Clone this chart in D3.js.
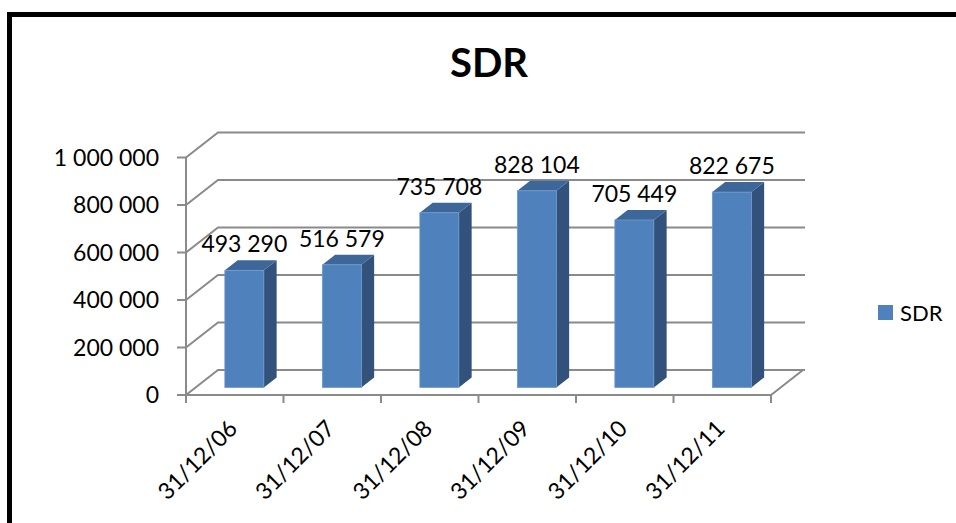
<!DOCTYPE html>
<html>
<head>
<meta charset="utf-8">
<script src="https://cdn.jsdelivr.net/npm/d3@7"></script>
<style>
  html, body { margin: 0; padding: 0; background: #fff; }
  svg { display: block; }
</style>
</head>
<body>
<svg id="chart" width="956" height="523"></svg>
<script>
// data
var categories = ['31/12/06', '31/12/07', '31/12/08', '31/12/09', '31/12/10', '31/12/11'];
var values = [493290, 516579, 735708, 828104, 705449, 822675];
var yTicks = [0, 200000, 400000, 600000, 800000, 1000000];
var seriesName = 'SDR';

var svg = d3.select('#chart');
var font = 'Lato, "Open Sans", sans-serif';
var gridColor = '#8a8a8a';

// depth of the 3d box (back wall offset)
var depthX = 32, depthY = -25;
var barFront = 0.3, barBack = 0.7;

var x = d3.scaleBand().domain(categories).range([186, 771]);
var y = d3.scaleLinear().domain([0, 1000000]).range([395, 157.5]);

var fmt = d3.formatLocale({ decimal: ',', thousands: ' ', grouping: [3], currency: ['', ''] }).format(',d');

// outer frame
svg.append('rect')
    .attr('x', 9.5)
    .attr('y', 14.5)
    .attr('width', 1000)
    .attr('height', 1000)
    .attr('fill', 'none')
    .attr('stroke', '#000')
    .attr('stroke-width', 5);

// title
svg.append('text')
    .text(seriesName)
    .attr('x', 489)
    .attr('y', 77)
    .attr('text-anchor', 'middle')
    .attr('font-family', font)
    .attr('font-weight', 'bold')
    .attr('font-size', 40)
    .attr('fill', '#000');

var grid = svg.append('g')
    .attr('stroke', gridColor)
    .attr('stroke-width', 2)
    .attr('fill', 'none');

var x0 = x.range()[0], x1 = x.range()[1];

// back wall gridlines + side wall diagonals
yTicks.forEach(function (t) {
    var yy = y(t);
    grid.append('path')
        .attr('d', `M${x0},${yy} L${x0 + depthX},${yy + depthY} L${x1 + depthX + 2},${yy + depthY}`);
});

// floor front edge and right diagonal
grid.append('path')
    .attr('d', `M${x0},${y(0)} L${x1},${y(0)} L${x1 + depthX},${y(0) + depthY}`);

// front vertical axis
grid.append('line')
    .attr('x1', x0).attr('x2', x0)
    .attr('y1', y(1000000)).attr('y2', y(0));

// y ticks and labels
yTicks.forEach(function (t) {
    grid.append('line')
        .attr('x1', x0 - 9).attr('x2', x0)
        .attr('y1', y(t)).attr('y2', y(t));
    svg.append('text')
        .text(fmt(t))
        .attr('x', 159)
        .attr('y', y(t))
        .attr('dy', '0.36em')
        .attr('text-anchor', 'end')
        .attr('font-family', font)
        .attr('font-size', 23)
        .attr('fill', '#000');
});

// x ticks at band edges
var edges = categories.map(function (c) { return x(c); }).concat([x1]);
edges.forEach(function (e) {
    grid.append('line')
        .attr('x1', e).attr('x2', e)
        .attr('y1', y(0)).attr('y2', y(0) + 8);
});

// x labels
categories.forEach(function (c) {
    var cx = x(c) + x.bandwidth() / 2 + 4;
    svg.append('text')
        .text(c)
        .attr('transform', `translate(${cx},430) rotate(-45)`)
        .attr('text-anchor', 'end')
        .attr('font-family', font)
        .attr('font-size', 23)
        .attr('fill', '#000');
});

// bars
var barW = x.bandwidth() * 0.4;
var bars = svg.append('g');

values.forEach(function (v, i) {
    var c = categories[i];
    var left = x(c) + (x.bandwidth() - barW) / 2 + depthX * barFront;
    var right = left + barW;
    var base = y(0) + depthY * barFront;
    var top = y(v) + depthY * barFront;
    var ox = depthX * (barBack - barFront), oy = depthY * (barBack - barFront);

    // side
    bars.append('path')
        .attr('d', `M${right},${base} L${right + ox},${base + oy} L${right + ox},${top + oy} L${right},${top} Z`)
        .attr('fill', '#32527c');
    // top
    bars.append('path')
        .attr('d', `M${left},${top} L${left + ox},${top + oy} L${right + ox},${top + oy} L${right},${top} Z`)
        .attr('fill', '#3d6798');
    // front
    bars.append('rect')
        .attr('x', left)
        .attr('y', top)
        .attr('width', barW)
        .attr('height', base - top)
        .attr('fill', '#4f81bd')
        .attr('stroke', '#6e98cb')
        .attr('stroke-width', 0.8);

    // value label
    svg.append('text')
        .text(fmt(v))
        .attr('x', left + barW / 2)
        .attr('y', top - 18)
        .attr('text-anchor', 'middle')
        .attr('font-family', font)
        .attr('font-size', 23)
        .attr('fill', '#000');
});

// legend
svg.append('rect')
    .attr('x', 878)
    .attr('y', 305)
    .attr('width', 15)
    .attr('height', 15)
    .attr('fill', '#4f81bd');

svg.append('text')
    .text(seriesName)
    .attr('x', 900)
    .attr('y', 321)
    .attr('font-family', font)
    .attr('font-size', 22)
    .attr('fill', '#000');
</script>
</body>
</html>
